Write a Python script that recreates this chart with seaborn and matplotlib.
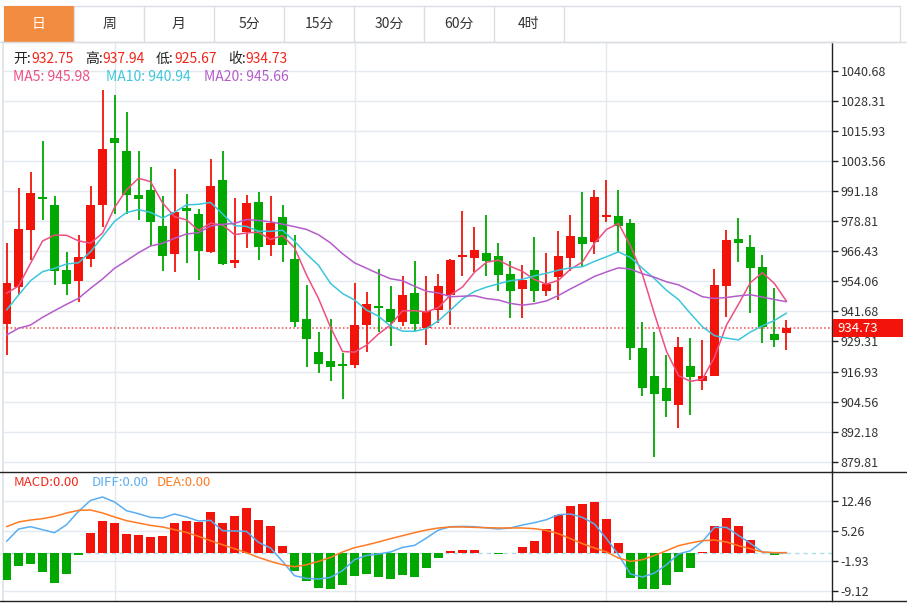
import numpy as np
import matplotlib
matplotlib.use("Agg")
import matplotlib.pyplot as plt
from matplotlib.patches import Rectangle
from matplotlib.lines import Line2D
import matplotlib.transforms as mtransforms
import seaborn as sns

# daily candles
open_ = [936.60, 951.57, 975.27, 988.84, 985.31, 958.81, 954.29, 963.34, 985.55, 1012.99,
         1007.64, 989.54, 991.72, 976.67, 965.27, 984.07, 981.73, 965.97, 995.59, 961.45,
         974.20, 986.66, 969.10, 980.49, 963.22, 938.53, 925.08, 921.26, 920.02, 919.61,
         936.19, 943.76, 942.52, 937.42, 949.10, 934.71, 942.24, 948.41, 964.16, 963.75,
         965.81, 964.33, 957.04, 950.87, 958.69, 950.17, 955.93, 963.63, 972.14, 970.09,
         980.62, 981.03, 978.15, 926.48, 915.21, 910.02, 903.03, 919.20, 913.03, 915.21,
         952.11, 971.32, 968.03, 960.05, 932.36, 932.75]
high = [969.67, 992.30, 998.88, 1011.88, 989.26, 966.22, 972.96, 993.37, 1032.74, 1030.68,
        1023.56, 1007.52, 1000.94, 989.26, 1000.24, 989.83, 983.78, 1004.23, 1007.64, 988.43,
        989.54, 990.65, 989.26, 985.31, 972.96, 952.52, 933.31, 938.53, 924.55, 953.34,
        949.76, 959.10, 951.98, 956.34, 962.39, 956.34, 956.92, 963.20, 982.96, 976.38,
        981.44, 969.80, 962.39, 960.62, 972.39, 965.68, 974.73, 981.19, 990.65, 991.60,
        995.71, 991.60, 979.55, 937.42, 933.31, 923.72, 931.25, 930.59, 929.89, 959.10,
        975.14, 979.96, 973.09, 964.86, 951.16, 937.94]
low = [923.60, 948.41, 962.80, 979.26, 952.64, 948.28, 945.65, 960.05, 976.50, 981.60,
       981.60, 979.38, 968.56, 958.40, 957.99, 961.69, 954.70, 965.50, 960.60, 959.64,
       967.86, 962.93, 964.57, 961.86, 935.37, 918.91, 916.20, 913.15, 905.50, 918.50,
       925.08, 933.06, 927.43, 935.65, 933.60, 927.84, 937.01, 936.06, 956.34, 957.99,
       956.22, 950.17, 938.82, 939.07, 945.40, 947.99, 946.35, 958.40, 960.05, 965.39,
       978.56, 965.68, 921.67, 906.86, 881.64, 898.34, 893.82, 899.04, 909.33, 915.00,
       939.48, 962.10, 941.12, 928.53, 927.14, 925.67]
close = [953.47, 975.56, 990.24, 987.77, 958.28, 953.05, 964.04, 985.55, 1008.34, 1010.93,
         989.42, 988.02, 978.56, 964.57, 982.55, 982.84, 966.51, 993.25, 961.03, 962.68,
         986.13, 968.27, 978.15, 969.10, 937.42, 930.31, 919.90, 918.91, 919.32, 936.06,
         944.70, 942.93, 937.30, 948.53, 936.60, 941.82, 952.11, 962.93, 964.98, 966.92,
         962.39, 956.63, 950.05, 954.58, 950.17, 952.93, 964.57, 972.80, 969.51, 988.72,
         981.32, 976.99, 926.73, 910.27, 907.68, 904.68, 926.89, 914.80, 915.08, 952.40,
         971.03, 969.67, 959.64, 935.37, 929.89, 934.73]

ma5 = [949.10, 952.11, 961.45, 970.62, 973.06, 972.98, 970.68, 969.74, 973.85, 984.38,
       991.66, 996.45, 995.05, 986.30, 980.62, 979.31, 975.01, 977.94, 977.24, 973.26,
       973.92, 974.27, 971.25, 972.87, 967.81, 956.65, 946.98, 935.13, 925.17, 924.90,
       927.78, 932.38, 936.06, 941.90, 942.01, 941.44, 943.27, 948.40, 951.69, 957.75,
       961.87, 962.77, 960.19, 958.11, 954.76, 952.87, 954.46, 959.01, 962.00, 969.71,
       975.38, 977.87, 968.65, 956.81, 940.60, 925.27, 915.25, 912.86, 913.83, 922.77,
       936.04, 944.60, 953.56, 957.62, 953.12, 945.86]
ma10 = [942.24, 948.41, 954.29, 957.99, 959.39, 961.16, 961.69, 966.22, 972.39, 978.72,
        982.32, 983.56, 982.40, 980.08, 982.50, 985.48, 985.73, 986.50, 981.77, 976.94,
        976.61, 974.64, 974.60, 975.05, 970.54, 965.29, 960.62, 953.19, 949.02, 946.36,
        942.21, 939.68, 935.60, 933.54, 933.46, 934.61, 937.83, 942.23, 946.80, 949.88,
        951.65, 953.02, 954.30, 954.90, 956.26, 957.37, 958.62, 959.60, 960.06, 962.24,
        964.13, 966.16, 963.83, 959.40, 955.15, 950.33, 946.56, 940.76, 935.32, 931.68,
        930.66, 929.92, 933.21, 935.72, 937.95, 940.95]
ma20 = [931.95, 934.71, 936.06, 939.23, 941.95, 944.58, 947.05, 951.16, 954.99, 959.39,
        962.52, 965.81, 968.56, 969.67, 971.73, 973.50, 974.03, 976.79, 977.49, 977.83,
        979.47, 979.10, 978.50, 977.56, 976.52, 975.38, 973.18, 969.84, 965.39, 961.65,
        959.41, 957.16, 955.10, 954.29, 952.00, 949.95, 949.23, 947.71, 947.91, 948.12,
        946.93, 946.35, 944.95, 944.22, 944.86, 945.99, 948.22, 950.92, 953.43, 956.06,
        957.89, 959.59, 959.06, 957.15, 955.71, 953.85, 952.59, 950.18, 947.69, 946.96,
        947.39, 948.04, 948.52, 947.56, 946.55, 945.64]

macd = [-6.40, -3.21, -2.57, -4.65, -7.19, -5.04, -0.41, 4.80, 7.75, 7.10,
        4.63, 4.39, 3.74, 4.15, 7.19, 7.58, 7.43, 9.74, 7.27, 8.94,
        10.79, 7.99, 6.47, 1.75, -4.24, -6.81, -8.49, -8.56, -7.60, -5.61,
        -5.04, -5.68, -6.24, -5.20, -5.68, -3.60, -1.20, 0.55, 0.79, 0.79,
        0.05, -0.34, -0.10, 1.51, 2.95, 5.83, 9.18, 11.18, 11.75, 12.23,
        8.06, 2.30, -6.00, -8.72, -8.72, -7.60, -4.48, -3.69, 0.15, 6.55,
        8.30, 6.47, 3.12, 0.10, -0.50, 0.00]
diff = [2.78, 5.75, 6.31, 5.59, 4.87, 6.79, 9.98, 12.61, 13.43, 12.23,
        10.14, 9.42, 8.54, 8.39, 9.35, 8.63, 7.67, 7.82, 5.35, 5.28,
        5.18, 2.54, 1.20, -2.01, -5.44, -6.09, -6.24, -5.85, -4.24, -1.61,
        -0.58, -0.24, 0.24, 1.34, 1.82, 3.60, 5.52, 6.31, 6.38, 6.31,
        6.00, 5.75, 6.00, 6.71, 7.27, 7.99, 9.18, 9.35, 8.54, 6.95,
        3.43, -0.41, -5.04, -5.76, -4.80, -2.81, -0.24, 0.55, 2.78, 6.14,
        6.14, 4.22, 2.30, 0.24, 0.00, 0.08]
dea = [6.31, 7.43, 7.91, 8.23, 8.78, 9.59, 10.22, 10.31, 9.59, 8.63,
       7.75, 7.19, 6.62, 6.24, 5.59, 4.94, 3.98, 2.95, 1.99, 1.03,
       0.07, -1.06, -2.01, -2.81, -3.29, -2.81, -2.01, -1.06, 0.24, 1.27,
       1.92, 2.64, 3.43, 4.15, 4.87, 5.52, 6.00, 6.24, 6.24, 6.14,
       6.07, 6.00, 6.00, 6.00, 5.83, 5.42, 4.63, 3.43, 2.23, 1.20,
       0.24, -1.20, -2.01, -1.61, -0.58, 0.55, 1.75, 2.40, 2.95, 3.12,
       2.64, 1.75, 1.03, 0.24, 0.08, 0.08]

price_ticks = [1040.68, 1028.31, 1015.93, 1003.56, 991.18, 978.81, 966.43, 954.06,
               941.68, 929.31, 916.93, 904.56, 892.18, 879.81]
macd_ticks = [12.46, 5.26, -1.93, -9.12]
month_marks = [9, 29, 50]
tabs = ["日", "周", "月", "5分", "15分", "30分", "60分", "4时"]
last_price = 934.73

RED = "#F2140A"
GREEN = "#00A800"
C_MA5, C_MA10, C_MA20 = "#EE4F82", "#3CC6DC", "#B45CCB"
C_DIFF, C_DEA = "#5AADF2", "#FF7A22"
GRID = "#E3E9EF"

sns.set_theme(style="white")
plt.rcParams['font.family'] = ['Noto Sans CJK SC', 'DejaVu Sans']

W, H = 907, 603
fig = plt.figure(figsize=(W / 100, H / 100), dpi=100)


def fx(x):
    return x / W


def fy(y):
    return 1 - y / H


L, R = 3.3, 832.3
ax = fig.add_axes([fx(L), fy(471.5), (R - L) / W, (471.5 - 42) / H])
axm = fig.add_axes([fx(L), fy(601), (R - L) / W, (601 - 471.5) / H])

idx = np.arange(len(close))
o, c = np.array(open_), np.array(close)
cols = [RED if cc >= oo else GREEN for oo, cc in zip(o, c)]

# candles
ax.vlines(idx, low, high, colors=cols, linewidth=1.3, zorder=3)
body = np.maximum(np.abs(c - o), 0.7)
ax.bar(idx, body, bottom=np.minimum(o, c), width=0.72, color=cols, linewidth=0, zorder=4)

sns.lineplot(x=idx, y=ma5, ax=ax, color=C_MA5, linewidth=1.1, zorder=5)
sns.lineplot(x=idx, y=ma10, ax=ax, color=C_MA10, linewidth=1.1, zorder=5)
sns.lineplot(x=idx, y=ma20, ax=ax, color=C_MA20, linewidth=1.1, zorder=5)

ax.axhline(last_price, color="#F04848", linestyle=(0, (1, 1.5)), linewidth=1.1, zorder=2)

ax.set_xlim(-0.27, 68.82)
ax.set_ylim(875.80, 1052.49)
ax.set_yticks(price_ticks)
ax.set_yticklabels([f"{t:.2f}" for t in price_ticks])
ax.set_xticks(month_marks)
ax.set_xticklabels([])
ax.yaxis.tick_right()
ax.grid(True, color=GRID, linewidth=1, zorder=0)
ax.set_axisbelow(True)

# macd panel
mcols = [RED if v >= 0 else GREEN for v in macd]
axm.axhline(0, color="#A8DDEE", linestyle=(0, (3, 3)), linewidth=1, zorder=1)
axm.bar(idx, macd, width=0.72, color=mcols, linewidth=0, zorder=3)
sns.lineplot(x=idx, y=diff, ax=axm, color=C_DIFF, linewidth=1.1, zorder=4)
sns.lineplot(x=idx, y=dea, ax=axm, color=C_DEA, linewidth=1.1, zorder=4)
axm.set_xlim(-0.27, 68.82)
axm.set_ylim(-11.51, 19.54)
axm.set_yticks(macd_ticks)
axm.set_yticklabels([f"{t:.2f}" for t in macd_ticks])
axm.set_xticks(month_marks)
axm.set_xticklabels([])
axm.yaxis.tick_right()
axm.grid(True, color=GRID, linewidth=1, zorder=0)
axm.set_axisbelow(True)

for a in (ax, axm):
    a.set_xlabel("")
    a.set_ylabel("")
    a.tick_params(axis="y", right=True, left=False, length=4, width=1, color="#222222",
                  labelsize=9, labelcolor="#333333", pad=2)
    a.tick_params(axis="x", bottom=False, top=False, length=0)
    a.spines["top"].set_visible(False)
    a.spines["bottom"].set_visible(False)
    a.spines["left"].set_color("#DDE3EA")
    a.spines["right"].set_color("#222222")
    a.spines["right"].set_linewidth(1)

# separator lines
for yy in (471.5, 601):
    fig.add_artist(Line2D([fx(0), fx(W)], [fy(yy), fy(yy)], color="#222222", linewidth=1))

# last price tag
fig.add_artist(Rectangle((fx(833), fy(337)), (903 - 833) / W, 18 / H,
                         facecolor=RED, edgecolor="none"))
fig.text(fx(837), fy(328), f"{last_price:.2f}", color="white", fontsize=9.5,
         ha="left", va="center")

# tab bar
fig.add_artist(Line2D([fx(0), fx(W)], [fy(42), fy(42)], color="#DADDE1", linewidth=1))
fig.add_artist(Rectangle((fx(4), fy(42)), (900 - 4) / W, 36 / H,
                         facecolor="none", edgecolor="#DADDE1", linewidth=1))
tab_w = 70.0
for k, name in enumerate(tabs):
    x0 = 4 + tab_w * k
    if k == 0:
        fig.add_artist(Rectangle((fx(x0), fy(42)), tab_w / W, 36 / H,
                                 facecolor="#F28C40", edgecolor="none"))
    fig.add_artist(Line2D([fx(x0 + tab_w)] * 2, [fy(6), fy(42)], color="#DADDE1", linewidth=1))
    fig.text(fx(x0 + tab_w / 2), fy(24), name, fontsize=10,
             color="white" if k == 0 else "#333333", ha="center", va="center")

# price legend
row1 = [("开:", 13, f"{open_[-1]:.2f}", 31.5), ("高:", 85, f"{high[-1]:.2f}", 102.5),
        ("低:", 156, f"{low[-1]:.2f}", 174), ("收:", 228, f"{close[-1]:.2f}", 245.5)]
for lab, lx, val, vx in row1:
    fig.text(fx(lx), fy(59), lab, fontsize=10, color="#222222", ha="left", va="center")
    fig.text(fx(vx), fy(59), val, fontsize=10, color="#F2261A", ha="left", va="center")
for txt, lx, col in [("MA5: 945.98", 13, C_MA5), ("MA10: 940.94", 106, C_MA10),
                     ("MA20: 945.66", 204, C_MA20)]:
    fig.text(fx(lx), fy(77), txt, fontsize=10, color=col, ha="left", va="center")

# macd legend
for txt, lx, col in [("MACD:0.00", 14, "#F2261A"), ("DIFF:0.00", 91.5, C_DIFF),
                     ("DEA:0.00", 157, C_DEA)]:
    fig.text(fx(lx), fy(482), txt, fontsize=9.5, color=col, ha="left", va="center")

fig.savefig("out.png", dpi=100, facecolor="white")
